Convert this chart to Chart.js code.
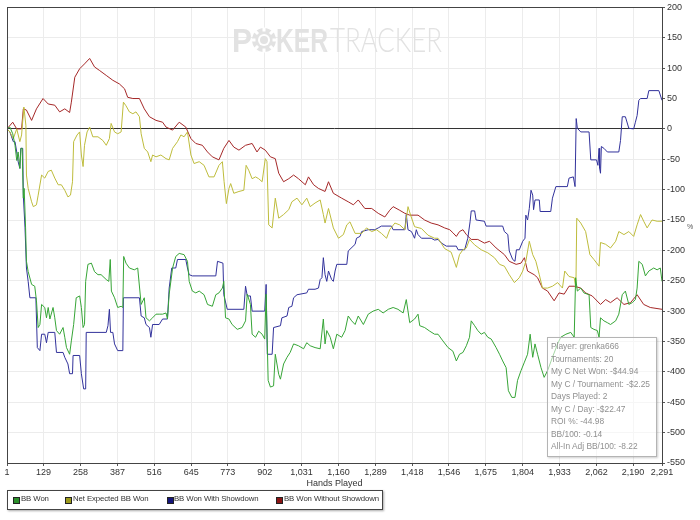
<!DOCTYPE html>
<html>
<head>
<meta charset="utf-8">
<script src="https://cdn.jsdelivr.net/npm/chart.js@4.4.1/dist/chart.umd.min.js"></script>
<style>
  body { margin: 0; background: #fff; font-family: "Liberation Sans", Arial, sans-serif; }
  #wrap { position: relative; width: 700px; height: 520px; }
  #stats { position: absolute; left: 547px; top: 337px; width: 110px; height: 120px; box-sizing: border-box;
           border: 1px solid #b4b4b4; background: rgba(255,255,255,0.55); box-shadow: 1px 1px 2px rgba(0,0,0,0.2);
           padding: 2px 0 0 3px; font-size: 8.4px; color: #909090; }
  #stats div { height: 12.5px; line-height: 12.5px; white-space: nowrap; }
  #legend { position: absolute; left: 7px; top: 490px; width: 376px; height: 20px; box-sizing: border-box;
            border: 1px solid #444; box-shadow: 1px 1px 2px #aaa; background: #fff; }
  .sw { position: absolute; top: 6px; width: 5px; height: 5px; border: 1px solid #222; }
  .lt { position: absolute; top: 3px; font-size: 7.8px; letter-spacing: -0.1px; color: #333; white-space: nowrap; }
</style>
</head>
<body>
<div id="wrap">
  <canvas id="chart" width="700" height="492"></canvas>
  <div id="stats"></div>
  <div id="legend"></div>
</div>
<script>
// valores: [mano, BB]
const handTicks = [1, 129, 258, 387, 516, 645, 773, 902, 1031, 1160, 1289, 1418, 1546, 1675, 1804, 1933, 2062, 2190, 2291];
const bbTicks = [-550, -500, -450, -400, -350, -300, -250, -200, -150, -100, -50, 0, 50, 100, 150, 200];

const bbWon = [[1,0],[11,3],[21,-8],[29,-27],[35,-52],[40,-38],[46,-65],[50,-32],[54,-32],[58,-114],[61,-98],[66,-163],[69,-218],[75,-235],[87,-256],[98,-259],[104,-283],[110,-327],[116,-322],[122,-289],[133,-294],[139,-311],[145,-294],[151,-313],[162,-294],[168,-311],[174,-332],[185,-338],[197,-327],[203,-343],[209,-360],[220,-371],[226,-349],[234,-322],[243,-278],[255,-275],[261,-294],[267,-327],[272,-322],[276,-251],[284,-223],[296,-221],[307,-235],[319,-240],[330,-240],[348,-248],[357,-251],[362,-215],[366,-267],[377,-278],[388,-294],[400,-292],[406,-294],[409,-210],[417,-221],[429,-229],[446,-232],[458,-229],[470,-289],[481,-278],[487,-311],[499,-316],[510,-311],[522,-305],[533,-305],[545,-305],[557,-303],[562,-313],[568,-272],[580,-229],[591,-210],[603,-205],[620,-207],[632,-218],[638,-251],[649,-267],[661,-270],[673,-267],[690,-273],[702,-289],[719,-292],[731,-273],[742,-270],
  [754,-262],[759,-251],[765,-311],[777,-313],[788,-322],[806,-330],[823,-327],[835,-316],[841,-272],[852,-289],[858,-338],[870,-343],[881,-333],[893,-338],[902,-346],[907,-272],[914,-414],[922,-425],[933,-423],[939,-371],[951,-404],[957,-412],[968,-387],[980,-376],[991,-368],[1003,-354],[1020,-357],[1038,-362],[1049,-352],[1061,-357],[1078,-360],[1096,-362],[1107,-313],[1113,-354],[1119,-332],[1131,-343],[1142,-362],[1154,-338],[1171,-343],[1183,-332],[1194,-308],[1206,-316],[1218,-322],[1229,-308],[1247,-322],[1264,-305],[1281,-300],[1299,-297],[1316,-303],[1334,-297],[1351,-294],[1368,-297],[1386,-303],[1397,-281],[1409,-319],[1426,-313],[1438,-305],[1444,-324],[1461,-327],[1479,-333],[1496,-338],
  [1508,-338],[1525,-349],[1543,-360],[1560,-366],[1572,-382],[1583,-371],[1595,-368],[1607,-357],[1618,-343],[1624,-316],[1636,-324],[1647,-332],[1659,-338],[1670,-335],[1682,-343],[1694,-346],[1711,-360],[1723,-371],[1734,-382],[1746,-393],[1754,-431],[1766,-442],[1777,-442],[1786,-414],[1798,-398],[1810,-384],[1821,-371],[1830,-338],[1839,-376],[1847,-354],[1856,-371],[1868,-393],[1879,-409],[1891,-398],[1908,-376],[1926,-354],[1937,-343],[1955,-338],[1972,-335],[1984,-343],[1989,-245],[1995,-267],[2007,-262],[2018,-270],[2036,-273],[2042,-327],[2053,-330],[2065,-332],[2071,-343],[2076,-311],[2088,-316],[2100,-319],[2111,-322],[2129,-316],[2140,-305],[2152,-273],[2163,-267],[2175,-289],[2187,-286],[2198,-281],[2204,-262],[2210,-218],[2222,-223],[2233,-242],[2245,-234],[2262,-229],[2274,-232],[2285,-229],[2291,-251]];

const netExpected = [[1,0],[11,-5],[23,-16],[35,0],[46,-21],[52,-10],[60,36],[67,6],[69,-76],[75,-98],[87,-120],[93,-128],[104,-125],[110,-109],[122,-76],[133,-81],[145,-70],[156,-68],[168,-81],[180,-92],[191,-92],[203,-101],[214,-112],[223,-109],[230,-87],[234,-21],[246,-10],[255,-5],[261,-43],[267,-62],[272,-27],[281,-5],[290,3],[301,-13],[319,-13],[336,-19],[348,-27],[359,-16],[365,9],[377,-5],[388,-8],[400,-5],[408,44],[417,38],[429,28],[441,25],[452,28],[464,20],[470,-8],[481,-32],[493,-38],[504,-54],[510,-43],[522,-46],[539,-43],[557,-49],[568,-51],[580,-32],[597,-21],[609,-10],[620,-13],[632,-5],[644,-43],[655,-57],[673,-54],[690,-60],[707,-79],[725,-79],[742,-60],[754,-54],[760,-87],[768,-123],[777,-98],
  [783,-90],[794,-106],[812,-103],[829,-101],[837,-60],[846,-68],[858,-82],[870,-79],[881,-82],[893,-87],[904,-49],[910,-54],[916,-158],[928,-163],[939,-114],[951,-147],[968,-141],[986,-133],[997,-120],[1015,-114],[1032,-125],[1049,-114],[1061,-128],[1078,-122],[1096,-117],[1107,-141],[1113,-155],[1125,-131],[1142,-163],[1160,-180],[1177,-174],[1189,-158],[1200,-153],[1218,-172],[1241,-172],[1258,-163],[1276,-169],[1293,-166],[1310,-172],[1328,-180],[1339,-166],[1357,-155],[1374,-158],[1392,-166],[1403,-128],[1412,-142],[1426,-161],[1450,-164],[1473,-175],[1496,-180],
  [1508,-180],[1531,-197],[1554,-203],[1572,-228],[1583,-207],[1595,-199],[1607,-196],[1618,-182],[1636,-191],[1659,-199],[1682,-204],[1705,-212],[1723,-223],[1740,-226],[1757,-240],[1775,-253],[1792,-245],[1804,-234],[1815,-218],[1827,-185],[1839,-207],[1850,-218],[1862,-240],[1873,-262],[1891,-262],[1908,-259],[1926,-253],[1943,-262],[1951,-234],[1966,-243],[1984,-245],[1990,-262],[1993,-147],[2007,-155],[2024,-169],[2039,-207],[2053,-215],[2071,-226],[2076,-187],[2094,-190],[2111,-196],[2129,-185],[2140,-169],[2158,-174],[2175,-169],[2192,-177],[2204,-158],[2216,-141],[2227,-152],[2239,-163],[2256,-150],[2274,-152],[2291,-152]];

const withShowdown = [[1,0],[11,-5],[17,-13],[23,-21],[29,-21],[35,-38],[40,-54],[46,-65],[49,-32],[56,-32],[58,-109],[64,-163],[69,-229],[75,-251],[81,-278],[102,-278],[107,-360],[116,-365],[122,-338],[133,-338],[139,-352],[145,-335],[168,-335],[174,-368],[197,-368],[203,-376],[214,-387],[220,-403],[230,-403],[232,-373],[255,-373],[261,-403],[269,-428],[276,-428],[278,-335],[348,-335],[354,-324],[359,-297],[363,-335],[371,-335],[377,-354],[388,-365],[406,-365],[408,-278],[464,-278],[470,-308],[481,-311],[487,-322],[499,-327],[504,-343],[510,-322],[533,-322],[545,-313],[562,-313],[568,-262],[577,-229],[591,-229],[597,-215],[626,-215],[632,-229],[638,-240],[649,-242],[731,-242],[737,-218],[756,-221],
  [759,-273],[771,-297],[829,-297],[835,-259],[841,-275],[852,-275],[858,-300],[902,-300],[907,-256],[911,-371],[928,-371],[933,-327],[957,-324],[962,-311],[980,-308],[986,-294],[997,-292],[1003,-278],[1015,-273],[1049,-270],[1055,-264],[1078,-264],[1090,-262],[1096,-248],[1102,-245],[1107,-212],[1113,-240],[1119,-251],[1125,-234],[1136,-248],[1142,-251],[1148,-234],[1154,-223],[1189,-223],[1194,-201],[1218,-190],[1223,-180],[1235,-177],[1241,-169],[1264,-166],[1287,-166],[1299,-163],[1310,-160],[1345,-160],[1351,-166],[1392,-166],[1397,-141],[1403,-166],[1415,-169],[1426,-180],[1432,-166],[1438,-174],[1450,-180],[1484,-180],[1496,-183],
  [1508,-182],[1520,-188],[1537,-193],[1572,-193],[1578,-199],[1601,-199],[1612,-180],[1620,-153],[1624,-135],[1636,-135],[1641,-150],[1670,-152],[1676,-160],[1734,-160],[1740,-169],[1752,-174],[1757,-201],[1769,-215],[1777,-218],[1782,-199],[1792,-199],[1804,-185],[1812,-180],[1815,-142],[1821,-150],[1827,-131],[1833,-101],[1839,-109],[1842,-133],[1847,-117],[1862,-117],[1865,-136],[1902,-136],[1908,-114],[1920,-95],[1960,-95],[1966,-81],[1981,-79],[1987,-95],[1991,17],[1995,1],[2007,-5],[2036,-5],[2042,-51],[2062,-51],[2067,-60],[2071,-32],[2073,-65],[2076,-73],[2079,-29],[2088,-32],[2100,-38],[2140,-38],[2146,-19],[2152,20],[2163,20],[2175,1],[2192,0],[2198,11],[2204,22],[2210,47],[2216,50],[2239,50],[2245,63],[2280,63],[2291,47]];

const withoutShowdown = [[1,0],[21,11],[35,0],[52,0],[58,33],[69,31],[87,14],[104,33],[127,50],[145,41],[168,39],[185,28],[203,33],[220,27],[226,44],[238,85],[255,99],[272,107],[290,116],[307,102],[325,96],[348,88],[371,80],[394,74],[412,66],[423,52],[441,50],[464,50],[481,33],[499,20],[522,14],[545,11],[557,3],[580,-2],[603,11],[626,3],[644,-16],[661,-24],[684,-27],[702,-38],[719,-46],[742,-51],
  [759,-32],[777,-19],[794,-30],[812,-35],[835,-27],[858,-24],[875,-38],[887,-30],[904,-35],[922,-46],[939,-49],[951,-73],[968,-87],[986,-82],[1003,-76],[1020,-82],[1044,-92],[1055,-79],[1073,-92],[1090,-98],[1113,-103],[1125,-87],[1142,-106],[1171,-114],[1194,-120],[1212,-125],[1229,-117],[1252,-131],[1276,-131],[1299,-139],[1322,-145],[1339,-134],[1351,-128],[1374,-134],[1392,-139],[1409,-142],[1438,-142],[1461,-150],[1484,-155],
  [1508,-158],[1531,-163],[1549,-166],[1560,-171],[1572,-177],[1583,-169],[1595,-166],[1607,-174],[1624,-182],[1647,-182],[1670,-188],[1688,-185],[1711,-196],[1740,-207],[1757,-218],[1781,-223],[1798,-221],[1810,-212],[1821,-234],[1844,-240],[1856,-245],[1873,-262],[1891,-267],[1914,-283],[1931,-270],[1949,-272],[1966,-259],[1984,-259],[2007,-262],[2024,-270],[2047,-275],[2076,-289],[2094,-281],[2111,-286],[2134,-278],[2158,-289],[2181,-286],[2204,-273],[2227,-289],[2250,-294],[2291,-297]];

const statLines = ['Player: grenka666', 'Tournaments: 20', 'My C Net Won: -$44.94', 'My C / Tournament: -$2.25',
  'Days Played: 2', 'My C / Day: -$22.47', 'ROI %: -44.98', 'BB/100: -0.14', 'All-In Adj BB/100: -8.22'];

const series = [
  { label: 'BB Won', data: bbWon, line: 'rgb(55,165,55)', box: '#2b8f2b', sx: 5, tx: 13 },
  { label: 'Net Expected BB Won', data: netExpected, line: 'rgb(190,188,60)', box: '#9c9a1c', sx: 57, tx: 65 },
  { label: 'BB Won With Showdown', data: withShowdown, line: 'rgb(50,50,155)', box: '#15157a', sx: 159, tx: 166 },
  { label: 'BB Won Without Showdown', data: withoutShowdown, line: 'rgb(165,40,40)', box: '#8a1414', sx: 268, tx: 276 }
];

// caja de estadisticas y leyenda
document.getElementById('stats').innerHTML = statLines.map(t => '<div>' + t + '</div>').join('');
document.getElementById('legend').innerHTML = series.map(s =>
  '<span class="sw" style="left:' + s.sx + 'px;background:' + s.box + '"></span>' +
  '<span class="lt" style="left:' + s.tx + 'px">' + s.label + '</span>').join('');

// marco y marca de agua
const frame = {
  id: 'frame',
  afterDatasetsDraw(chart) {
    const a = chart.chartArea, c = chart.ctx;
    c.save();
    c.strokeStyle = '#444';
    c.lineWidth = 1;
    c.strokeRect(Math.round(a.left) + 0.5, Math.round(a.top) + 0.5, Math.round(a.right - a.left), Math.round(a.bottom - a.top));
    c.fillStyle = '#555';
    c.font = '7px "Liberation Sans"';
    c.fillText('%', 687, 229);
    c.restore();
  }
};

function fitText(c, t, x, y, w) {
  const m = c.measureText(t).width;
  c.save();
  c.translate(x, y);
  c.scale(w / m, 1);
  c.fillText(t, 0, 0);
  c.restore();
}

const watermark = {
  id: 'watermark',
  beforeDatasetsDraw(chart) {
    const c = chart.ctx;
    c.save();
    c.fillStyle = '#e2e2e2';
    c.font = 'bold 34px "Liberation Sans"';
    fitText(c, 'P', 232, 52, 20);
    fitText(c, 'KER', 276, 52, 52);
    c.font = '300 34px Lato';
    fitText(c, 'TRACKER', 330, 52, 112);
    // ficha de poker en lugar de la O
    const cx = 264, cy = 40;
    c.beginPath(); c.arc(cx, cy, 12, 0, Math.PI * 2); c.fill();
    c.fillStyle = '#fff';
    for (let i = 0; i < 8; i++) {
      c.save(); c.translate(cx, cy); c.rotate(i * Math.PI / 4);
      c.fillRect(-1.5, -12.5, 3, 4);
      c.restore();
    }
    c.beginPath(); c.arc(cx, cy, 6, 0, Math.PI * 2); c.fill();
    c.fillStyle = '#e2e2e2';
    c.beginPath(); c.arc(cx, cy, 4, 0, Math.PI * 2); c.fill();
    c.restore();
  }
};

const ctx = document.getElementById('chart').getContext('2d');
const myChart = new Chart(ctx, {
  type: 'line',
  data: {
    datasets: series.map(s => ({
      label: s.label,
      data: s.data.map(p => ({ x: p[0], y: p[1] })),
      borderColor: s.line,
      backgroundColor: s.box,
      borderWidth: 1,
      pointRadius: 0,
      tension: 0,
      fill: false
    }))
  },
  options: {
    responsive: false,
    animation: false,
    layout: { padding: { left: 7, top: 5, right: 0, bottom: 0 } },
    plugins: { legend: { display: false }, tooltip: { enabled: false } },
    scales: {
      x: {
        type: 'linear', min: 1, max: 2291,
        afterBuildTicks: s => { s.ticks = handTicks.map(v => ({ value: v })); },
        afterFit: s => { s.height = 29; },
        ticks: { autoSkip: false, maxRotation: 0, padding: 1, color: '#333',
                 font: { family: 'Liberation Sans', size: 9 },
                 callback: v => v.toLocaleString('en-US') },
        grid: { color: '#ececec', tickLength: 3, tickColor: '#555' },
        border: { color: '#444' },
        title: { display: true, text: 'Hands Played', color: '#333',
                 font: { family: 'Liberation Sans', size: 9 }, padding: { top: 0, bottom: 3 } }
      },
      y: {
        position: 'right', min: -550, max: 200,
        afterBuildTicks: s => { s.ticks = bbTicks.map(v => ({ value: v })); },
        afterFit: s => { s.width = 38; },
        ticks: { padding: 2, color: '#333', font: { family: 'Liberation Sans', size: 9 } },
        grid: { color: c => (c.tick && c.tick.value === 0) ? '#333' : '#ececec', tickLength: 3, tickColor: '#555' },
        border: { color: '#444' }
      }
    }
  },
  plugins: [watermark, frame]
});
</script>
</body>
</html>
